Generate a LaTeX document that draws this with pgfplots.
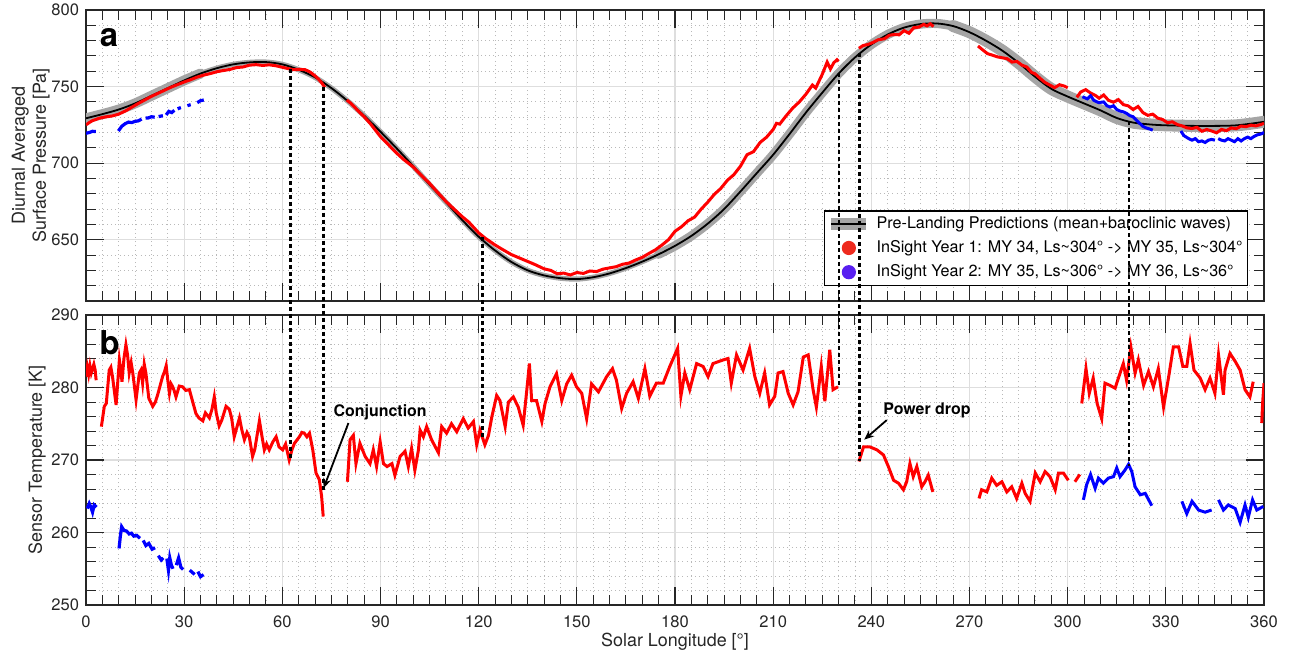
\documentclass[border=0pt]{standalone}
\usepackage{fontspec}
\setmainfont{TeX Gyre Heros}
\usepackage{pgfplots}
\usepackage{pgfplotstable}
\pgfplotsset{compat=1.18}
\usetikzlibrary{arrows.meta}
\definecolor{axgray}{RGB}{38,38,38}
\definecolor{gridmaj}{RGB}{222,222,222}
\definecolor{gridmin}{RGB}{185,185,185}
\definecolor{bandgray}{RGB}{165,165,165}
\definecolor{dred}{RGB}{255,0,0}
\definecolor{dblue}{RGB}{0,0,255}
\definecolor{legred}{RGB}{238,42,30}
\definecolor{legblue}{RGB}{88,30,240}

\pgfplotstableread{
ls p
0 729.3
5 732
10 735
15 739
20 744
25 749
30 754
35 758.5
40 762
45 764.5
50 765.8
55 766
60 764.5
65 761
70 756
75 749
80 740.5
85 731
90 720.5
95 709.5
100 698
105 686
110 674.5
115 662.8
120 652
125 643
130 635.5
135 630
140 626.7
145 624.9
150 624.3
155 625.5
160 628
165 631.5
170 635.7
175 640.5
180 646
185 652.5
190 660.5
195 670
200 681.5
205 693.5
210 705.5
215 719
220 733
225 746
230 758.5
235 769
240 777.5
245 784
250 788.5
255 790.8
260 791.2
265 789.5
270 785.5
275 780
280 773.5
285 765.5
290 756.5
295 748.5
300 743.5
305 739
310 734.5
315 729.5
320 726.5
325 725.3
330 724.7
340 724.3
350 724.5
355 725.5
360 727
}\pred

\pgfplotsset{common/.style={
  scale only axis, width=589bp,
  xmin=0, xmax=360, xtick={0,30,...,360},
  minor xtick={5,10,15,20,25,35,40,45,50,55,65,70,75,80,85,95,100,105,110,115,125,130,135,140,145,155,160,165,170,175,185,190,195,200,205,215,220,225,230,235,245,250,255,260,265,275,280,285,290,295,305,310,315,320,325,335,340,345,350,355},
  tick align=inside, major tick length=9bp, minor tick length=5bp,
  every tick/.style={axgray, line width=0.6bp},
  every minor tick/.style={axgray, line width=0.5bp},
  axis line style={axgray, line width=0.9bp},
  grid=both,
  major grid style={gridmaj, line width=0.6bp},
  minor grid style={gridmin, line width=0.45bp, dash pattern=on 0.5bp off 1.6bp},
  tick label style={font=\fontsize{8.3}{10}\selectfont, text=axgray},
  label style={font=\fontsize{9}{10.5}\selectfont, text=axgray},
  /pgf/number format/assume math mode=true,
  xticklabel shift=2bp,
}}
\tikzset{dline/.style={black, line width=1.35bp, dash pattern=on 2bp off 1.5bp}}

\begin{document}
\begin{tikzpicture}
\path[use as bounding box] (0,0) rectangle (646.5bp,327.5bp);
% ---------------- panel a
\begin{axis}[common, at={(43bp,177bp)}, anchor=south west, height=145.5bp,
  ymin=610, ymax=800, ytick={650,700,750,800},
  minor ytick={610,620,630,640,660,670,680,690,710,720,730,740,760,770,780,790},
  xticklabels={},
  ylabel={Diurnal Averaged\\Surface Pressure [Pa]}, ylabel style={align=center}, ylabel shift=-6bp,
  legend style={at={(axis description cs:0.9867,0.0515)}, anchor=south east,
    draw=black, line width=0.7bp, fill=white, font=\fontsize{8.1}{9.5}\selectfont,
    inner xsep=0.5bp, inner ysep=0.8bp, row sep=0.6bp, cells={anchor=west}},
  legend cell align=left]
\addplot[bandgray, line width=2.6bp, smooth, forget plot] table[x=ls,y=p] {\pred};
\addplot[bandgray, line width=4.6bp, smooth, line cap=round, forget plot, restrict x to domain=175:360] table[x=ls,y=p] {\pred};
\addplot[bandgray, line width=6bp, smooth, line cap=round, forget plot, restrict x to domain=265:360] table[x=ls,y=p] {\pred};
\addplot[bandgray, line width=5bp, smooth, line cap=round, forget plot, restrict x to domain=0:35] table[x=ls,y=p] {\pred};
\addplot[black, line width=0.9bp, smooth, forget plot] table[x=ls,y=p] {\pred};
% red year 1
\addplot[dred, line width=1.5bp, forget plot] coordinates {
(0,725)(1,726.5)(2,727.8)(3,728.5)(4,729.3)(6,730.2)(8,730.8)(10,732)(12,734)(14,736.5)(16,739)(18,741.3)(20,743.6)(22,745.6)(24,747.6)(26,749.6)(28,751.3)(30,753)(32,754.5)(34,756.2)(36,757.5)(38,758.5)(40,759.7)(42,760.5)(44,761.2)(46,762.4)(48,762.8)(50,764)(52,764.3)(54,763.8)(56,764.2)(58,763.6)(60,762.6)(62,761.6)(63.5,761)(65,761.3)(67,761)(68.5,759.5)(70,757)(71,755)(72,752.5)(73,749.5)};
\addplot[dred, line width=1.5bp, forget plot] coordinates {
(79.7,741.2)(81,739)(83,734.5)(85,730.3)(87,725.5)(89,720)(90,717.3)(92,713)(94,708.5)(95,706.4)(97,702.5)(100,697.5)(102,693)(105,686.8)(107,682)(110,675)(112,671)(115,665)(117,661.5)(120,654.5)(122,651)(125,646.6)(127,644)(130,640.3)(132,638.5)(135,635.8)(137,634)(140,631)(142,630)(144,627.8)(146,628.2)(148,627)(150,628.6)(152,628)(154,629.6)(156,629.2)(158,630.8)(160,631.6)(162,632.4)(164,634)(166,634.8)(168,636.8)(170,638.5)(172,641)(174,643.4)(176,646.5)(178,650)(180,655.5)(182,658.5)(184,662.4)(186,664.8)(188,670)(190,674.5)(192,679.6)(194,683.5)(196,688.8)(198,692.5)(200,698)(202,705.5)(204,707.5)(206,713.5)(208,717)(210,722)(211,726)(212,725.5)(214,731)(216,736)(218,740)(220,745)(222,751)(223,749)(225,758)(226.5,766)(227.5,761.5)(228.5,765.5)(229.5,767.5)(230,766.5)};
\addplot[dred, line width=1.5bp, forget plot] coordinates {
(236.2,775)(237.5,776.8)(239,777.5)(240.5,778.8)(242,780.5)(244,781.2)(245.5,783.5)(247,784)(248.5,783.8)(250,786.5)(251.5,784.8)(253,788.5)(254.5,788.8)(256,790.6)(257,789.6)(258,791)(259,789.2)};
\addplot[dred, line width=1.5bp, forget plot] coordinates {
(272.6,776.5)(274,774)(275.5,771.5)(277,770.5)(278.5,769.4)(280,768.8)(281.5,768.2)(283,766)(284.5,766.4)(286,764)(287.5,762.8)(289,759.2)(290,758.4)(291.5,755.5)(293,752.8)(294.5,751)(296,749.3)(297.5,751.2)(299,750.3)(300,749.2)};
\addplot[dred, line width=1.5bp, forget plot] coordinates {
(302.8,743)(304,746.5)(305.5,748)(307,745.8)(308.5,744.2)(309.6,742.4)(311,744.5)(312.5,741)(314,739.8)(315.5,741.5)(317,738.2)(318.5,737.4)(320,735)(321.5,737)(323,733)(324.5,731.2)(326,732)(327.5,729.4)(329,728.5)(330.5,726.4)(332,727)(333.5,725.2)(335,724.3)(336.5,723)(338,722.6)(339.5,723.4)(341,720.8)(342.5,722)(344,721)(345.5,719.8)(347,722)(348.5,721.2)(350,723)(351.5,722.5)(353,724.2)(354.5,723.8)(356,724.8)(357.5,724.3)(359,725.2)(360,726)};
% blue year 2
\addplot[dblue, line width=1.6bp, forget plot] coordinates {(0,719.5)(1,720)(2,720.8)(3,720.6)};
\addplot[dblue, line width=1.6bp, forget plot] coordinates {(9.9,721)(10.4,722.5)(11,724.2)(12,725.8)(13,726.8)(14,726.5)(15,727.3)(16,727.6)(17,728.8)};
\addplot[dblue, line width=1.6bp, forget plot] coordinates {(18.2,729.4)(19,729.5)(20,730.3)(21,730)};
\addplot[dblue, line width=1.6bp, forget plot] coordinates {(22.2,730.4)(23.5,731)};
\addplot[dblue, line width=1.6bp, forget plot] coordinates {(24.5,731.5)(25.3,733.8)(26.2,733)(27,734.5)};
\addplot[dblue, line width=1.6bp, forget plot] coordinates {(28,735.5)(29,736.3)};
\addplot[dblue, line width=1.6bp, forget plot] coordinates {(31,737.5)(32,738.2)};
\addplot[dblue, line width=1.6bp, forget plot] coordinates {(34,739.5)(35,740.8)(36,741.2)};
\addplot[dblue, line width=1.5bp, forget plot] coordinates {
(304.5,743.4)(306,742)(307,744)(308,741)(309.5,739.5)(311,740)(312,737.5)(313,736.6)(314,737.5)(315,735)(316,734)(317,733.5)(318,732.5)(319,731)(320,730.3)(321,728)(322,726)(323,724)(324,723)(325.5,722)(326,721.5)};
\addplot[dblue, line width=1.5bp, forget plot] coordinates {
(334.6,721)(335.5,718)(337,716)(338,715)(339,716)(340,714)(341,714.5)(342,713.5)(343,715)(344,715.5)(345,715)};
\addplot[dblue, line width=1.5bp, forget plot] coordinates {
(346,716)(347,715)(348,714.5)(349,716)(350,715)(351,714)(352,716)(353,714.5)(354,716)(355,717)(356,716)(357,717.5)(358,718.5)(359,719)(360,720)};
\node[font=\fontsize{16.5}{18}\selectfont\bfseries, anchor=center] at (axis cs:7.0,782) {a};
\coordinate (d1a) at (axis cs:62.5,761.5);
\coordinate (d2a) at (axis cs:72.6,750);
\coordinate (d3a) at (axis cs:121.1,651.5);
\coordinate (d4a) at (axis cs:230.1,759);
\coordinate (d5a) at (axis cs:236.3,772);
\coordinate (d6a) at (axis cs:318.7,727.5);
\addlegendimage{legend image code/.code={
  \draw[bandgray, line width=6.2bp] (0bp,0bp) -- (17.5bp,0bp);
  \draw[black, line width=1bp] (0bp,0bp) -- (17.5bp,0bp);}}
\addlegendentry{Pre-Landing Predictions (mean+baroclinic waves)}
\addlegendimage{legend image code/.code={\fill[legred] (8.7bp,0bp) circle (3.2bp);}}
\addlegendentry{InSight Year 1: MY 34, Ls\textasciitilde304° -> MY 35, Ls\textasciitilde304°}
\addlegendimage{legend image code/.code={\fill[legblue] (8.7bp,0bp) circle (3.2bp);}}
\addlegendentry{InSight Year 2: MY 35, Ls\textasciitilde306° -> MY 36, Ls\textasciitilde36°}
\end{axis}
% ---------------- panel b
\begin{axis}[common, at={(43bp,25bp)}, anchor=south west, height=145bp,
  ymin=250, ymax=290, ytick={250,260,...,290},
  minor ytick={252,254,256,258,262,264,266,268,272,274,276,278,282,284,286,288},
  xlabel={Solar Longitude [°]}, ylabel={Sensor Temperature [K]},
  xlabel shift=-4.5bp, ylabel shift=-4bp]
\addplot[dred, line width=1.5bp] coordinates {(0,281.5)(0.4,282.8)(0.8,281.8)(1.2,283)(1.6,282)(2,282.6)(2.4,283.2)(2.8,282.4)(3.1,281)};
\addplot[dred, line width=1.5bp] coordinates {
(4.7,274.6)(5.6,277.4)(6.2,277.8)(7.1,282.4)(7.6,282.8)(8.1,281.5)(9.2,277.6)(10.2,283.8)(10.6,282.5)(11,280.8)(11.6,284)(12.2,285.9)(12.7,284.5)(13.2,282)(13.8,283.4)(14.3,282)(15.3,278.3)(16.3,282)(16.8,282.4)(17.3,280.6)(17.8,283.2)(18.3,282)(19.2,278.5)(20.4,277.4)(21.2,278)(21.9,279)(23.4,281.5)(24,282.2)(24.5,283)(25,281)(25.5,279.2)(26,280.5)(26.5,280.1)(27,279.5)(27.5,278.7)(28.5,280.2)(29.5,280.1)(30.5,279.6)(31.6,279.7)(32.5,278.2)(33.6,276.4)(34.5,275.8)(35.7,275.4)(36.5,276.5)(37.7,275.8)(38.5,277)(39.2,278.7)(39.8,276.5)(40.7,274.7)(41.5,275.5)(42.8,277.4)(43.8,277)(44.5,275.8)(45.3,273.2)(46.1,274.5)(46.9,275.8)(47.6,274.2)(48.4,272.8)(49.2,273.8)(49.9,273.2)(50.9,270.5)(51.6,271.5)(53,275.4)(53.8,273.2)(54.5,271.4)(55.2,272.2)(56,271.4)(57.1,272.5)(58.1,273.2)(59,271.8)(60.1,271.4)(61,272.2)(62.1,270)(63,271.5)(63.7,272.3)(65.2,273.2)(66,273.8)(66.7,273.7)(67.5,273.2)(68.3,273.7)(69.3,271.4)(70.3,268.2)(71.3,267.3)(72,265)(72.5,262.2)};
\addplot[dred, line width=1.5bp] coordinates {
(79.9,267)(80.7,272.8)(81.7,273.4)(82.5,269.5)(83.7,272.3)(85.3,270.5)(86.8,269.5)(87.8,271.4)(88.8,269.1)(89.9,272.5)(90.9,269.5)(92,269.1)(93.5,269.5)(94.4,267.9)(96,270.5)(97.5,271.2)(98.5,269.1)(99.5,271.6)(100.5,268.6)(101.6,271.4)(102.1,274.1)(103.1,273.2)(104.1,274.6)(105.6,272.8)(107.7,271)(108.7,274.6)(110.2,273.7)(111.7,275)(113.3,273.9)(115.3,275.7)(116.8,274.4)(118.4,275.3)(119.4,272.1)(120.4,274.1)(121.9,272.1)(123,273.4)(124,275.9)(125.5,278.9)(126.5,278.2)(128.1,274.6)(129.1,278)(130.6,278.7)(132.1,277.3)(133.6,274.8)(134.7,279.6)(135.5,283.3)(136.2,278.2)(137.7,278.2)(139.3,275.3)(140.3,277.8)(141.8,280.1)(143.8,281.9)(145.4,278.2)(146.9,280.5)(148.4,281.7)(149.9,280.1)(151.5,279.2)(153,275.7)(154.5,280.5)(156.6,279.4)(159.1,281.5)(160.9,282.6)(162.1,281)(163.7,277.1)(165.2,279.2)(167.2,280.8)(168.8,278.5)(170.8,282.6)(172.3,278.8)(174.3,280.6)(176.4,280.6)(178.4,282.9)(180.8,285.4)(181.8,278.8)(183,282)(184.5,279.7)(186.6,283.3)(188.6,282.9)(190.1,281.5)(191.6,283.3)(194.7,283.8)(196.2,284)(197.2,280.6)(198.8,284.5)(200.8,282.4)(202.8,285.4)(204.4,281.5)(205.9,279.2)(207.4,282)(208.9,277.6)(210.5,278.8)(211.5,282)(213,282.2)(214.6,279.2)(216.1,277.6)(217.6,279.4)(219.2,284.2)(220.7,284.5)(222.2,279.7)(223.2,277.3)(224.7,282.9)(225.8,278.1)(227.3,285.2)(228.3,279.7)(229.8,280.1)};
\addplot[dred, line width=1.5bp] coordinates {
(236.2,269.8)(237.6,271.8)(239.6,271.8)(241.7,271.4)(243.7,270.7)(245.2,269.1)(246.8,267.2)(248.3,266.8)(249.8,265.9)(250.8,267)(251.8,269.5)(252.8,267.7)(253.9,269.1)(255.4,266.3)(256.4,267)(257.4,267.9)(258.8,265.6)};
\addplot[dred, line width=1.5bp] coordinates {
(272.9,264.7)(273.7,265.9)(275.3,265.6)(276.8,267.5)(278.3,266.5)(279.9,267)(281.4,265.6)(282.9,266.3)(284.4,264.7)(286,266.8)(287,265.4)(288.5,264.3)(290.1,268.2)(291.6,267)(293.1,268.4)(294.6,267.7)(296.2,265.9)(297.2,268.2)(298.7,268.2)(300.2,267.2)};
\addplot[dred, line width=1.5bp] coordinates {(302.2,267)(303.7,268)};
\addplot[dred, line width=1.5bp] coordinates {
(304.3,277.8)(305.6,282.6)(306.6,279.2)(307.8,281.3)(309,277.8)(310.4,275.7)(311.4,280.6)(312.9,280.3)(314.5,279.9)(315.5,281.3)(317,283.3)(318,281)(319.3,285.6)(320.6,282)(321.6,283.8)(323.2,280.3)(324.7,282.2)(326.2,280.1)(327.7,282.6)(329.3,277.3)(330.8,281.3)(332.3,285.6)(333.9,285.6)(335.2,282.9)(336.4,282.9)(337.4,286.1)(338.6,282.4)(340.5,281.3)(342,279.7)(343.5,281.3)(345,279.2)(346.1,284.5)(347.6,279)(348.1,282.4)(349.6,284.7)(351.2,283.6)(352.7,282.4)(354.2,279.7)(355.7,278.7)(356.7,280.8)};
\addplot[dred, line width=1.5bp] coordinates {(359.3,275.1)(359.6,278)(360,280.6)};
% blue
\addplot[dblue, line width=1.6bp] coordinates {(0.4,263.3)(1,264)(1.5,263.5)(2,262.8)(2.5,263.8)(3.2,263.5)};
\addplot[dblue, line width=1.6bp] coordinates {(10.1,257.8)(10.5,259.5)(10.9,260.8)(11.6,260.3)(12.4,260.2)(13.2,259.8)(13.9,259.9)(14.6,259.5)(15.5,259.6)(16.5,259.2)};
\addplot[dblue, line width=1.6bp] coordinates {(17.5,258.9)(18.3,258.2)(19.2,258.5)(20.2,257.7)(21.1,257.9)};
\addplot[dblue, line width=1.6bp] coordinates {(22.1,256.8)(23,256.2)(23.6,256.5)};
\addplot[dblue, line width=1.6bp] coordinates {(24.7,256.4)(25.2,254.8)(25.6,256.5)(26.1,255.5)(26.6,255)};
\addplot[dblue, line width=1.6bp] coordinates {(27.6,255.5)(28.3,256.5)(29,255.2)(29.7,254.9)};
\addplot[dblue, line width=1.6bp] coordinates {(31.7,254.8)(32.5,254.5)(33.2,254.2)};
\addplot[dblue, line width=1.6bp] coordinates {(34.2,254.6)(35,253.9)(35.9,254.2)};
\addplot[dblue, line width=1.5bp] coordinates {
(304.8,264.5)(305.8,266.6)(307,268)(308.4,266.1)(309.4,267.5)(310.9,266.8)(312.4,267.5)(314,267.7)(315,268.9)(316,267.7)(317.5,268.6)(318.6,269.4)(319.6,268.4)(320.6,266.3)(322.2,265.2)(323.7,265.4)(325.7,263.7)};
\addplot[dblue, line width=1.5bp] coordinates {
(334.9,264.3)(336.4,262.6)(338,264.3)(340,263.1)(342,262.8)(344,263.1)};
\addplot[dblue, line width=1.5bp] coordinates {
(346.1,264.5)(347.6,263.1)(349.1,263.8)(351.2,263.3)(352.7,261.4)(354.2,263.8)(355.2,262.1)(356.5,264.5)(357.8,263.1)(359.8,263.6)};
\node[font=\fontsize{16.5}{18}\selectfont\bfseries, anchor=center] at (axis cs:7.2,286.2) {b};
\node[font=\fontsize{8}{9.6}\selectfont\bfseries, anchor=center] at (axis cs:89.9,276.6) {Conjunction};
\draw[black, line width=0.9bp, -{Stealth[length=5bp,width=4bp]}] (axis cs:80.2,275.1) -- (axis cs:72.6,266.1);
\node[font=\fontsize{8}{9.6}\selectfont\bfseries, anchor=center] at (axis cs:257,276.9) {Power drop};
\draw[black, line width=0.9bp, -{Stealth[length=5bp,width=4bp]}] (axis cs:244.7,275.5) -- (axis cs:237.8,272.8);
\coordinate (d1b) at (axis cs:62.5,270.3);
\coordinate (d2b) at (axis cs:72.6,265.8);
\coordinate (d3b) at (axis cs:121.1,273.2);
\coordinate (d4b) at (axis cs:230.1,280);
\coordinate (d5b) at (axis cs:236.3,269.8);
\coordinate (d6b) at (axis cs:318.7,269.2);
\end{axis}
\draw[dline] (d1a) -- (d1b);
\draw[dline] (d2a) -- (d2b);
\draw[dline] (d3a) -- (d3b);
\draw[dline] (d4a) -- (d4b);
\draw[dline] (d5a) -- (d5b);
\draw[dline] (d6a) -- (d6b);
\end{tikzpicture}
\end{document}
